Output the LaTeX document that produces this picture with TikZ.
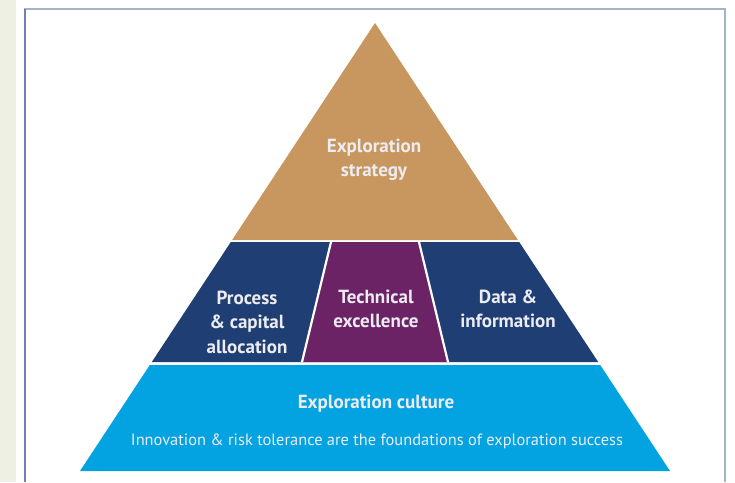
\documentclass[tikz,border=0pt]{standalone}
\usepackage{fontspec}
\setmainfont{PT Sans}
\definecolor{tan}{HTML}{C8975F}
\definecolor{navy}{HTML}{1F3E73}
\definecolor{plum}{HTML}{6C2366}
\definecolor{sky}{HTML}{02A3E0}
\definecolor{strip}{HTML}{EEF0E3}
\definecolor{frame}{HTML}{A3B3CA}
\definecolor{txt}{HTML}{ECECF2}
\begin{document}
\begin{tikzpicture}[x=1pt,y=-1pt,
  lbl/.style={text=txt,font=\bfseries\fontsize{19}{24.5}\selectfont,align=center,inner sep=0pt},
  captext/.style={text=txt,font=\fontsize{16.4}{18}\selectfont,inner sep=0pt},
  sep/.style={draw=white,line width=2.2pt}]
\useasboundingbox (0,0) rectangle (735,482);
\fill[white] (0,0) rectangle (735,482);
\fill[strip] (0,0) rectangle (16,482);
% frame
\draw[frame,line width=1.2pt] (25,482) -- (25,9) -- (725,9) -- (725,482);
\draw[color=frame!70!blue!60!gray,line width=1.2pt] (25,482) -- (25,9);
% pyramid
\fill[tan] (375,23) -- (232.1,240) -- (517.9,240) -- cycle;
\fill[navy] (230.8,242) -- (519.2,242) -- (598.2,362) -- (151.8,362) -- cycle;
\fill[plum] (331,242) -- (419,242) -- (448,362) -- (302,362) -- cycle;
\draw[sep] (331,242) -- (302,362);
\draw[sep] (419,242) -- (448,362);
\fill[sky] (149.8,365) -- (600.2,365) -- (670,471) -- (80,471) -- cycle;
% labels
\node[lbl] (strategy) at (374,160) {Exploration\\strategy};
\node[lbl] (process) at (247,322) {Process\\\& capital\\allocation};
\node[lbl] (technical) at (376,309) {Technical\\excellence};
\node[lbl] (data) at (508,309) {Data \&\\information};
\node[lbl] (culture) at (376,404) {Exploration culture};
\node[captext] (caption) at (377,441) {Innovation \& risk tolerance are the foundations of exploration success};
\end{tikzpicture}
\end{document}
